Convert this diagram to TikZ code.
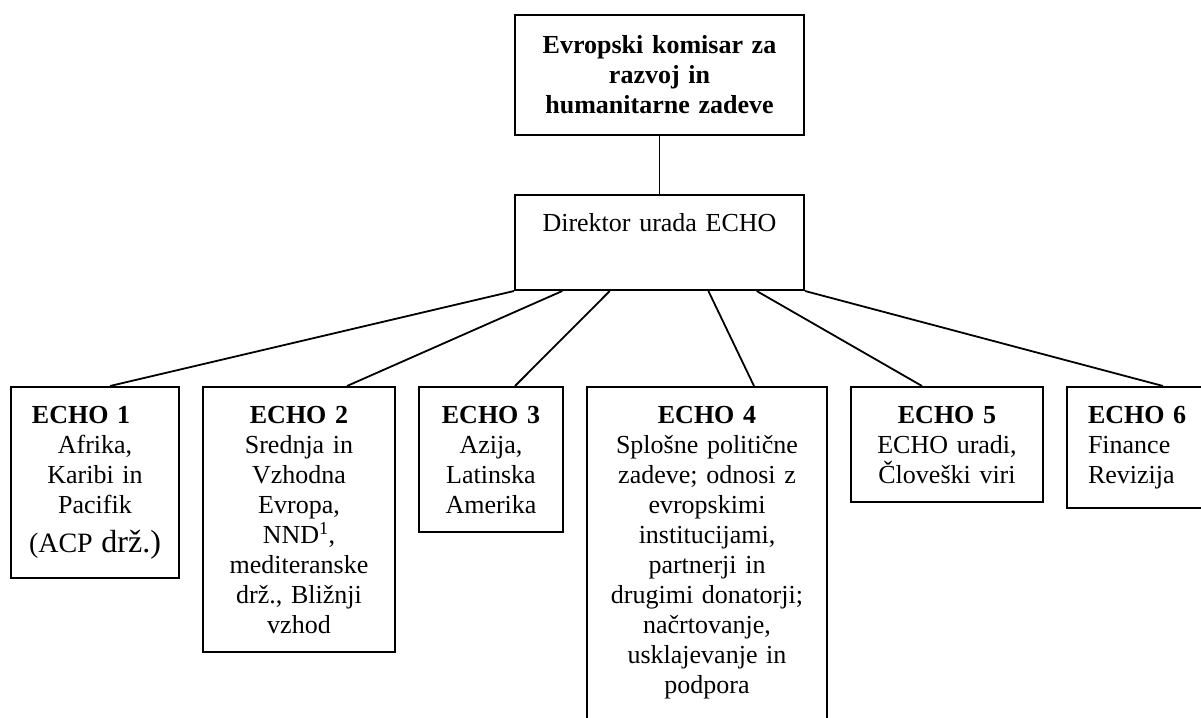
\documentclass[tikz,border=0pt]{standalone}
\usepackage{fontspec}
\setmainfont{Liberation Serif}
\usetikzlibrary{positioning,calc}

\tikzset{
  orgbox/.style={draw, line width=2pt, inner xsep=5pt, inner ysep=19pt,
    align=center, anchor=north west, font=\fontsize{26}{30}\selectfont},
  orgline/.style={line width=1.8pt},
}

\begin{document}
\begin{tikzpicture}[x=1pt,y=-1pt]
    \useasboundingbox (0,0) rectangle (1201,717);
    \clip (0,0) rectangle (1201,717);

    % Upper levels
    \node[orgbox, text width=279pt, minimum height=120pt, inner ysep=10pt,
          font=\bfseries\fontsize{26}{30}\selectfont] (komisar) at (514,14)
        {Evropski komisar za\\razvoj in\\humanitarne zadeve};
    \node[orgbox, text width=279pt, text height=20pt, text depth=43pt,
          inner ysep=16pt] (direktor) at (514,194) {Direktor urada ECHO};
    \draw[orgline] (komisar.south) -- (direktor.north);

    % Units ECHO 1 - ECHO 6
    \node[orgbox, text width=158pt] (echoa) at (10,386)
        {\makebox[158pt][l]{\hspace*{16pt}\textbf{ECHO 1}}\\Afrika,\\Karibi in\\Pacifik\\[9pt]
         {\fontsize{28}{30}\selectfont(ACP \fontsize{32}{30}\selectfont drž.)}};
    \node[orgbox, text width=182pt] (echob) at (202,386)
        {\textbf{ECHO 2}\\Srednja in\\Vzhodna\\Evropa,\\NND\textsuperscript{1},\\mediteranske\\drž., Bližnji\\vzhod};
    \node[orgbox, text width=134pt] (echoc) at (418,386)
        {\textbf{ECHO 3}\\Azija,\\Latinska\\Amerika};
    \node[orgbox, text width=230pt, text depth=320pt] (echod) at (586,386)
        {\textbf{ECHO 4}\\Splošne politične\\zadeve; odnosi z\\evropskimi\\institucijami,\\partnerji in\\drugimi donatorji;\\načrtovanje,\\usklajevanje in\\podpora};
    \node[orgbox, text width=182pt] (echoe) at (850,386)
        {\textbf{ECHO 5}\\ECHO uradi,\\Človeški viri};
    \node[orgbox, text width=150pt, inner xsep=21pt, align=left] (echof) at (1066,386)
        {\textbf{ECHO 6}\\Finance\\Revizija};

    % Connectors from the director
    \foreach \f/\b/\s in {0/echoa/100, 0.166/echob/145, 0.329/echoc/97,
                          0.668/echod/168, 0.834/echoe/72, 1/echof/97} {
        \draw[orgline] ($(direktor.south west)!\f!(direktor.south east)$)
            -- ([xshift=\s pt]\b.north west);
    }

\end{tikzpicture}
\end{document}
